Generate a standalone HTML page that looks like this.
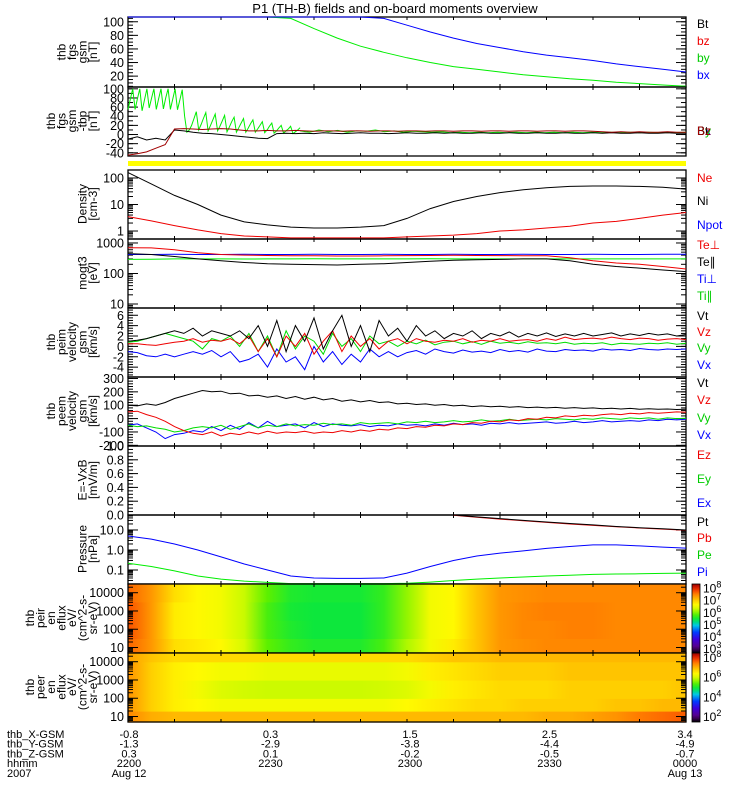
<!DOCTYPE html>
<html><head><meta charset="utf-8"><style>
html,body{margin:0;padding:0;background:#fff;}
svg{display:block;font-family:"Liberation Sans",sans-serif;}
</style></head><body>
<svg id="chart" width="750" height="800" viewBox="0 0 750 800" xmlns="http://www.w3.org/2000/svg">
<rect x="0" y="0" width="750" height="800" fill="#fff"/>
<text x="395" y="13" font-size="13" text-anchor="middle">P1 (TH-B) fields and on-board moments overview</text>
</svg>
<script>
// ---------- data ----------
const fgsBx = [400,370,340,310,280,250,225,200,180,150,125,105,95,85,76,68,62,56,51,47,43,38,34,30,26];
const fgsBy = [250,220,190,165,145,128,115,105,90,76,64,55,47,40,34,30,26,22,19,16,14,11,9,7,5];
const tbpByEarly = [55,78,100,55,78,100,52,76,100,58,80,100,55,78,100,56,80,100,55,78,100,54,76,98,40,5,10,20,35,50,10,22,35,48,8,20,32,45,8,18,30,42,6,16,28,38,5,15,25,35,5,14,24,32,5,12,20,28,4,10,18,25,3,8,14,20,3,8,12,18,2,6,10,15];
const tbpByLate = [8,5,10,6,9,5,8,7,10,6,8,5,7,6,5,6,4,5,4,5,4,5,4,5,4,5,4,5,4,5,4,5,4,5,4,5,4,5,4,5,4,5];
const tbpBz = [-45,-42,-38,-30,-22,12,13,12,11,12,13,12,10,8,8,9,8,8,9,8,7,8,8,7,8,8,7,8,8,7,8,8,7,8,8,7,8,8,7,8,8,7,8,8,7,8,8,7,8,8,7,6,5,6,5,6,5,5,6,5,5];
const tbpBt = [-10,-5,-12,-8,-12,10,8,5,3,2,0,-2,-4,-6,-8,-9,2,3,2,3,2,4,3,2,3,4,3,3,2,3,4,3,3,4,3,4,3,3,4,3,3,4,3,3,4,3,3,4,3,3,4,3,4,3,3,4,3,3,4,3,3];
const densNi = [160,60,22,10,4,2.2,1.7,1.4,1.3,1.3,1.4,1.6,3,7,13,20,28,36,43,48,50,50,48,45,38];
const densNe = [3.5,2.4,1.6,1.1,0.8,0.65,0.6,0.55,0.55,0.55,0.55,0.55,0.6,0.65,0.7,0.8,1.0,1.1,1.3,1.5,2,2.3,3,4,5];
const tempTePerp = [700,690,600,480,420,400,390,380,380,375,375,380,385,390,395,390,385,380,380,330,260,220,200,170,140];
const tempTePar = [450,420,360,300,260,230,210,200,195,190,200,210,230,250,270,280,290,300,300,260,200,170,150,130,115];
const tempTiPerp = [420,420,425,420,420,425,420,420,425,420,420,425,420,420,425,420,420,425,420,420,425,420,420,425,430];
const tempTiPar = [290,295,300,300,300,298,300,300,302,300,300,300,300,302,300,300,300,300,300,300,300,300,300,300,300];
const viVt = [1,1.2,1.5,2,2.5,3,2.5,3.5,2,3,2.5,2,3,1.5,4,0,5,-1,4,1,5.5,-0.5,3,6,0,4,-1,5,2,3.5,1,4,2,3,1.5,2.5,2,3,1.5,2.5,2,2.8,1.8,2.5,2,2.6,1.9,2.4,2,2.5,2,2.3,2.6,2,2.4,2.1,2.5,2.2,2.4,2,2.3];
const viVz = [0.5,0.5,0.3,0.2,0.5,0.8,1,1.5,0.8,1.2,1,1.5,0.5,2,-1,1.5,-2,2,0,2.5,-1.5,1,3,-1,2,0,1.5,-0.5,1,1.5,0.5,1.5,1,0.8,1.2,1,1.5,0.8,1.2,1,1.5,1,1.2,1.3,1,1.5,1.2,1.8,1.3,1.5,1.6,1.4,1.8,1.5,1.3,1.6,1.5,1.2,1.4,1.5,1.3];
const viVy = [0.8,1,1.5,2,2.5,2,1.5,1,-0.5,1.5,1,2,0,2.5,-1,2,-2,3,-0.5,2,1,-1.5,2.5,0,1.5,-1,2,0.5,1,0,1,0.5,1.2,0.3,0.8,1,0.5,0.9,0.4,1,0.6,0.8,0.5,0.9,0.6,0.7,0.5,0.8,0.4,0.6,0.5,0.7,0.3,0.6,0.5,0.4,0.6,0.5,0.7,0.4,0.6];
const viVx = [-1,-1.2,-1.8,-2,-1.5,-2,-1.5,-1,-1.5,-0.8,-2,-1,-3,-2.5,-1.5,-4,-0.5,-3,-2,-4.5,0,-3,-1,-3.5,-1.5,-3,-0.5,-2,-1,-2,-1.2,-0.8,-1.5,-0.5,-1,-1.3,-0.7,-1.1,-0.9,-1.2,-0.6,-1,-0.8,-1.1,-0.5,-0.9,-1,-0.6,-0.8,-0.7,-0.9,-0.5,-0.7,-0.6,-0.8,-0.4,-0.6,-0.7,-0.5,-0.6,-0.5];
const veVt = [100,95,110,100,120,150,170,190,210,200,205,185,190,170,175,160,170,150,165,145,160,140,150,130,140,125,135,120,125,110,115,105,110,100,105,95,100,90,95,88,92,85,90,82,86,80,84,78,82,76,80,74,78,72,76,70,74,70,72,68,70];
const veVz = [50,55,30,10,-20,-60,-90,-110,-120,-100,-130,-110,-120,-100,-115,-95,-110,-100,-105,-95,-110,-100,-105,-90,-100,-85,-95,-80,-85,-70,-75,-60,-65,-50,-55,-40,-45,-30,-35,-20,-25,-10,-15,0,-5,10,5,20,15,25,20,30,35,30,40,35,45,40,45,50,48];
const veVy = [-50,-60,-55,-70,-80,-100,-90,-70,-60,-70,-50,-80,-60,-40,-70,-50,-60,-40,-55,-45,-50,-35,-45,-40,-50,-30,-40,-35,-30,-40,-25,-30,-20,-30,-25,-15,-25,-20,-10,-20,-15,-5,-15,-10,-5,-10,0,-5,-10,0,-5,5,0,-5,5,0,5,-5,5,0,3];
const veVx = [-50,-40,-70,-100,-150,-120,-110,-90,-100,-60,-90,-50,-80,-30,-70,-20,-60,-50,-40,-70,-30,-60,-40,-50,-55,-45,-60,-50,-55,-40,-50,-45,-55,-40,-50,-35,-45,-40,-50,-35,-40,-30,-40,-35,-30,-25,-35,-30,-20,-30,-25,-15,-25,-20,-15,-20,-10,-15,-5,-10,-5];
const presPi = [5,3.5,2,1,0.45,0.2,0.1,0.05,0.04,0.038,0.038,0.04,0.07,0.15,0.3,0.5,0.7,0.9,1.2,1.5,1.8,1.8,1.6,1.4,1.25];
const presPe = [0.22,0.15,0.09,0.05,0.035,0.028,0.024,0.021,0.021,0.021,0.021,0.021,0.022,0.025,0.03,0.035,0.04,0.045,0.05,0.055,0.06,0.063,0.065,0.068,0.07];
const presPt = [null,null,null,null,null,null,null,null,null,null,null,null,null,null,56,45,37,30,25,21,18,15,13,11.5,10];
const presPb = [null,null,null,null,null,null,null,null,null,null,null,null,null,null,54,43,35,29,24,20,17,14.5,12.5,11,9.6];
const ionFlux = [
 [7.6,7.3,6.8,6.7,6.6,6.3,5.8,5.6,5.5,5.5,5.5,5.7,6.1,6.5,6.7,7.0,7.3,7.35,7.4,7.4,7.4,7.4,7.4,7.4,7.4],
 [7.7,7.3,6.7,6.6,6.5,6.2,5.7,5.5,5.4,5.4,5.4,5.6,6.0,6.5,6.6,7.0,7.3,7.4,7.4,7.45,7.45,7.4,7.4,7.4,7.4],
 [7.7,7.3,6.7,6.6,6.5,6.2,5.7,5.45,5.4,5.4,5.4,5.6,6.0,6.5,6.6,7.0,7.3,7.4,7.45,7.45,7.45,7.4,7.4,7.4,7.4],
 [7.6,7.3,6.8,6.6,6.5,6.2,5.8,5.5,5.45,5.45,5.45,5.6,6.0,6.5,6.6,7.0,7.3,7.35,7.4,7.4,7.4,7.4,7.4,7.4,7.4]];
const eleFlux = [
 [7.3,7.0,6.9,6.9,6.9,6.9,6.9,6.9,6.9,6.9,6.9,6.9,6.9,6.9,6.9,6.9,6.9,6.9,7.0,7.0,7.1,7.2,7.4,7.5,7.6],
 [7.2,6.7,6.4,6.3,6.2,6.2,6.2,6.2,6.2,6.2,6.2,6.2,6.3,6.4,6.5,6.6,6.6,6.7,6.7,6.7,6.7,6.8,6.8,6.9,6.9],
 [7.2,6.7,6.4,6.2,6.0,5.9,5.85,5.85,5.85,5.85,5.85,5.9,6.0,6.2,6.4,6.5,6.6,6.6,6.6,6.7,6.7,6.7,6.7,6.7,6.8],
 [7.2,6.7,6.4,6.3,6.2,6.2,6.1,6.1,6.1,6.1,6.1,6.1,6.2,6.4,6.5,6.6,6.7,6.7,6.7,6.8,6.8,6.8,6.8,6.8,6.8],
 [7.1,6.8,6.6,6.6,6.6,6.6,6.6,6.6,6.6,6.6,6.6,6.6,6.6,6.7,6.8,6.8,6.9,6.9,6.9,6.9,6.9,6.9,6.9,6.9,6.9]];
const ionRowEdges = [0.7,1.5,2.5,3.5,4.5];
const eleRowEdges = [0.7,1.3,2.0,3.0,4.0,4.5];
const xLabelRows = ["thb_X-GSM","thb_Y-GSM","thb_Z-GSM","hhmm","2007"];
const xLabelVals = [["-0.8","0.3","1.5","2.5","3.4"],["-1.3","-2.9","-3.8","-4.4","-4.9"],["0.3","0.1","-0.2","-0.5","-0.7"],["2200","2230","2300","2330","0000"],["Aug 12","","","","Aug 13"]];
const xLabelTimes = [0,30,60,90,120];

// ---------- helpers ----------
const NS="http://www.w3.org/2000/svg";
const svg=document.getElementById('chart');
function mk(tag,attrs,parent){const e=document.createElementNS(NS,tag);for(const k in attrs)e.setAttribute(k,attrs[k]);(parent||svg).appendChild(e);return e;}
const X0=128,X1=686;
function xs(t){return X0+t*(X1-X0)/120;}
function linS(y0,y1,v0,v1){return v=>y1-(v-v0)/(v1-v0)*(y1-y0);}
function logS(y0,y1,v0,v1){const a=Math.log10(v0),b=Math.log10(v1);return v=>y1-(Math.log10(v)-a)/(b-a)*(y1-y0);}
function series(arr,t0,t1,ys,color,name,y0,y1){
  let d='';let pen=false;
  arr.forEach((v,i)=>{if(v===null){pen=false;return;}
    const x=xs(t0+i*(t1-t0)/(arr.length-1));let y=ys(v);y=Math.max(y0,Math.min(y1,y));
    d+=(pen?'L':'M')+x.toFixed(1)+' '+y.toFixed(1);pen=true;});
  const p=mk('path',{d:d,fill:'none',stroke:color,'stroke-width':1});
  
  
}
function frame(y0,y1,name){
  const r=mk('rect',{x:X0,y:y0,width:X1-X0,height:y1-y0,fill:'none',stroke:'#000','stroke-width':1.3});
  
  
  for(let t=10;t<120;t+=10){mk('line',{x1:xs(t),x2:xs(t),y1:y0,y2:y0+3,stroke:'#000'});mk('line',{x1:xs(t),x2:xs(t),y1:y1,y2:y1-3,stroke:'#000'});}
}
function ytick(y,len){mk('line',{x1:X0,x2:X0+len,y1:y,y2:y,stroke:'#000'});mk('line',{x1:X1,x2:X1-len,y1:y,y2:y,stroke:'#000'});}
function ylab(y,txt){const t=mk('text',{x:124,y:y+4.5,'font-size':12.5,'text-anchor':'end'});t.textContent=txt;}
function linAxis(ys,y0,y1,majors,labels,minorStep,vmin,vmax){
  for(let v=Math.ceil(vmin/minorStep)*minorStep;v<=vmax+1e-9;v+=minorStep){const y=ys(v);if(y>=y0&&y<=y1)ytick(y,5);}
  majors.forEach((v,i)=>{const y=ys(v);ytick(y,10);ylab(y,labels[i]);});
}
function logAxis(ys,y0,y1,dmin,dmax,labels){
  for(let d=dmin;d<=dmax;d++){for(let m=1;m<10;m++){const v=m*Math.pow(10,d);const y=ys(v);if(y>=y0-0.5&&y<=y1+0.5)ytick(y,m===1?10:5);}}
  labels.forEach(l=>{const y=ys(l[0]);ylab(y,l[1]);});
}
function ytitle(lines,yc,name){
  const g=mk('g',{});
  const n=lines.length;
  lines.forEach((s,i)=>{const x=97-(n-1-i)*10.5;const t=mk('text',{x:x,y:yc,'font-size':12,'text-anchor':'middle',transform:`rotate(-90 ${x} ${yc})`},g);t.textContent=s;});
}
function legend(items){items.forEach(it=>{const t=mk('text',{x:697,y:it[2]+4,'font-size':12,fill:it[1]});t.textContent=it[0];});}

// colormap
const cstops=[[0,0,0,0],[.08,90,0,130],[.2,60,0,220],[.3,0,60,255],[.4,0,200,230],[.48,0,230,70],[.56,90,240,0],[.63,200,250,0],[.70,255,250,0],[.78,255,190,0],[.86,255,120,0],[.93,240,40,0],[1,150,0,0]];
function cmap(t){t=Math.max(0,Math.min(1,t));for(let i=1;i<cstops.length;i++){if(t<=cstops[i][0]){const a=cstops[i-1],b=cstops[i],f=(t-a[0])/(b[0]-a[0]);return `rgb(${Math.round(a[1]+f*(b[1]-a[1]))},${Math.round(a[2]+f*(b[2]-a[2]))},${Math.round(a[3]+f*(b[3]-a[3]))})`;}}return 'rgb(150,0,0)';}
const defs=mk('defs',{});
let gid=0;
function spectro(data,edges,y0,y1,fmin,fmax,name){
  const ey=v=>y1-(v-Math.log10(5))/(Math.log10(30000)-Math.log10(5))*(y1-y0);
  data.forEach((row,r)=>{
    const id='g'+(gid++);const lg=mk('linearGradient',{id:id,x1:0,x2:1,y1:0,y2:0},defs);
    row.forEach((v,i)=>{mk('stop',{offset:(i/(row.length-1)).toFixed(4),'stop-color':cmap((v-fmin)/(fmax-fmin))},lg);});
    const ya=Math.max(y0,ey(edges[r+1])),yb=Math.min(y1,ey(edges[r]));
    const rc=mk('rect',{x:X0,y:ya.toFixed(1),width:X1-X0,height:(yb-ya+0.6).toFixed(1),fill:`url(#${id})`});
    
    
  });
  return v=>ey(Math.log10(v));
}
function colorbar(y0,y1,fmin,fmax,exps,name){
  const id='cb'+(gid++);const lg=mk('linearGradient',{id:id,x1:0,x2:0,y1:1,y2:0},defs);
  for(let i=0;i<=20;i++)mk('stop',{offset:i/20,'stop-color':cmap(i/20)},lg);
  const r=mk('rect',{x:692,y:y0,width:8,height:y1-y0,fill:`url(#${id})`,stroke:'#000','stroke-width':0.8});
  
  exps.forEach(e=>{const y=y1-(e-fmin)/(fmax-fmin)*(y1-y0);const t=mk('text',{x:703,y:y+5,'font-size':12});t.textContent='10';const s=mk('tspan',{dy:-5,'font-size':9},t);s.textContent=String(e);});
}

// ---------- panels ----------
{const y0=17,y1=87,ys=linS(y0,y1,4,107);frame(y0,y1,'panel-fgs');linAxis(ys,y0,y1,[20,40,60,80,100],['20','40','60','80','100'],5,4,107);
series(fgsBy,0,120,ys,'#00ee00','fgs-by',y0,y1);series(fgsBx,0,120,ys,'#0000ff','fgs-bx',y0,y1);
ytitle(['thb','fgs','gsm','[nT]'],52,'fgs-axis-title');legend([['Bt','#000',24],['bz','#e00',41],['by','#00cc00',58],['bx','#00f',75]]);}
{const y0=87,y1=156,ys=linS(y0,y1,-47,104);frame(y0,y1,'panel-fgs-tbp');linAxis(ys,y0,y1,[100,80,60,40,20,0,-20,-40],['100','80','60','40','20','0','-20','-40'],10,-47,104);
series(tbpByEarly,0,37,ys,'#00ee00','tbp-by-early',y0,y1);series(tbpByLate,37,120,ys,'#00ee00','tbp-by',y0,y1);
series(tbpBt,0,120,ys,'#000','tbp-bt',y0,y1);series(tbpBz,0,120,ys,'#a00000','tbp-bz',y0,y1);
ytitle(['thb','fgs','gsm','-tbp','[nT]'],121,'fgs-tbp-axis-title');legend([['Bx','#00f',131],['By','#00cc00',131],['Bt','#000',131],['Bz','#a00000',131]]);
const yb=mk('rect',{x:X0,y:161,width:X1-X0,height:5,fill:'#ffff00'});}
{const y0=170,y1=239,ys=logS(y0,y1,0.5,200);frame(y0,y1,'panel-density');logAxis(ys,y0,y1,-1,2,[[1,'1'],[10,'10'],[100,'100']]);
series(densNi,0,120,ys,'#000','density-ni',y0,y1);series(densNe,0,120,ys,'#e00','density-ne',y0,y1);
ytitle(['Density','[cm-3]'],204,'density-axis-title');legend([['Ne','#e00',178],['Ni','#000',201],['Npot','#00f',225]]);}
{const y0=239,y1=308,ys=logS(y0,y1,7.4,1350);frame(y0,y1,'panel-temperature');logAxis(ys,y0,y1,0,3,[[10,'10'],[100,'100'],[1000,'1000']]);
series(tempTiPar,0,120,ys,'#00ee00','temp-ti-par',y0,y1);series(tempTiPerp,0,120,ys,'#00f','temp-ti-perp',y0,y1);
series(tempTePar,0,120,ys,'#000','temp-te-par',y0,y1);series(tempTePerp,0,120,ys,'#e00','temp-te-perp',y0,y1);
ytitle(['mogt3','[eV]'],273,'temperature-axis-title');legend([['Te⊥','#e00',245],['Te∥','#000',262],['Ti⊥','#00f',279],['Ti∥','#00cc00',296]]);}
{const y0=308,y1=377,ys=linS(y0,y1,-5.9,7.4);frame(y0,y1,'panel-ion-velocity');linAxis(ys,y0,y1,[6,4,2,0,-2,-4],['6','4','2','0','-2','-4'],0.5,-5.9,7.4);
series(viVx,0,120,ys,'#00f','vi-vx',y0,y1);series(viVy,0,120,ys,'#00dd00','vi-vy',y0,y1);series(viVz,0,120,ys,'#e00','vi-vz',y0,y1);series(viVt,0,120,ys,'#000','vi-vt',y0,y1);
ytitle(['thb','peim','velocity','gsm','[km/s]'],342,'ion-velocity-axis-title');legend([['Vt','#000',316],['Vz','#e00',332],['Vy','#00cc00',348],['Vx','#00f',365]]);}
{const y0=377,y1=446,ys=linS(y0,y1,-205,311);frame(y0,y1,'panel-electron-velocity');linAxis(ys,y0,y1,[300,200,100,0,-100,-200],['300','200','100','0','-100','-200'],20,-205,311);
series(veVx,0,120,ys,'#00f','ve-vx',y0,y1);series(veVy,0,120,ys,'#00dd00','ve-vy',y0,y1);series(veVz,0,120,ys,'#e00','ve-vz',y0,y1);series(veVt,0,120,ys,'#000','ve-vt',y0,y1);
ytitle(['thb','peem','velocity','gsm','[km/s]'],411,'electron-velocity-axis-title');legend([['Vt','#000',383],['Vz','#e00',400],['Vy','#00cc00',418],['Vx','#00f',435]]);}
{const y0=446,y1=515,ys=linS(y0,y1,0,1);frame(y0,y1,'panel-efield');linAxis(ys,y0,y1,[1,0.8,0.6,0.4,0.2,0],['1.0','0.8','0.6','0.4','0.2','0.0'],0.05,0,1);
ytitle(['E=-VxB','[mV/m]'],480,'efield-axis-title');legend([['Ez','#e00',455],['Ey','#00cc00',479],['Ex','#00f',503]]);}
{const y0=515,y1=584,ys=logS(y0,y1,0.02,56);frame(y0,y1,'panel-pressure');logAxis(ys,y0,y1,-2,1,[[0.1,'0.1'],[1,'1.0'],[10,'10.0']]);
series(presPe,0,120,ys,'#00ee00','pressure-pe',y0,y1);series(presPi,0,120,ys,'#00f','pressure-pi',y0,y1);series(presPb,0,120,ys,'#e00','pressure-pb',y0,y1);series(presPt,0,120,ys,'#000','pressure-pt',y0,y1);
ytitle(['Pressure','[nPa]'],549,'pressure-axis-title');legend([['Pt','#000',522],['Pb','#e00',538],['Pe','#00cc00',555],['Pi','#00f',572]]);}
{const y0=584,y1=653;const ys=spectro(ionFlux,ionRowEdges,y0,y1,2.6,8.3,'ion-spectrogram');frame(y0,y1,'panel-ion-spectrogram');
logAxis(ys,y0,y1,0,4,[[10,'10'],[100,'100'],[1000,'1000'],[10000,'10000']]);
ytitle(['thb','peir','en','eflux','eV/','(cm^2-s-','sr-eV)'],618,'ion-spectrogram-axis-title');colorbar(y0,y1,2.6,8.3,[8,7,6,5,4,3],'ion-colorbar');}
{const y0=653,y1=722;const ys=spectro(eleFlux,eleRowEdges,y0,y1,1.4,8.4,'electron-spectrogram');frame(y0,y1,'panel-electron-spectrogram');
logAxis(ys,y0,y1,0,4,[[10,'10'],[100,'100'],[1000,'1000'],[10000,'10000']]);
ytitle(['thb','peer','en','eflux','eV/','(cm^2-s-','sr-eV)'],687,'electron-spectrogram-axis-title');colorbar(y0,y1,1.4,8.4,[8,6,4,2],'electron-colorbar');}

xLabelRows.forEach((r,i)=>{const y=738+i*9.7;const t=mk('text',{x:7,y:y,'font-size':11});t.textContent=r;
 xLabelVals[i].forEach((v,j)=>{if(!v)return;const tt=mk('text',{x:xs(xLabelTimes[j])+(j===0?1:j===4?-1:3),y:y,'font-size':11,'text-anchor':'middle'});tt.textContent=v;});});
</script>
</body></html>
